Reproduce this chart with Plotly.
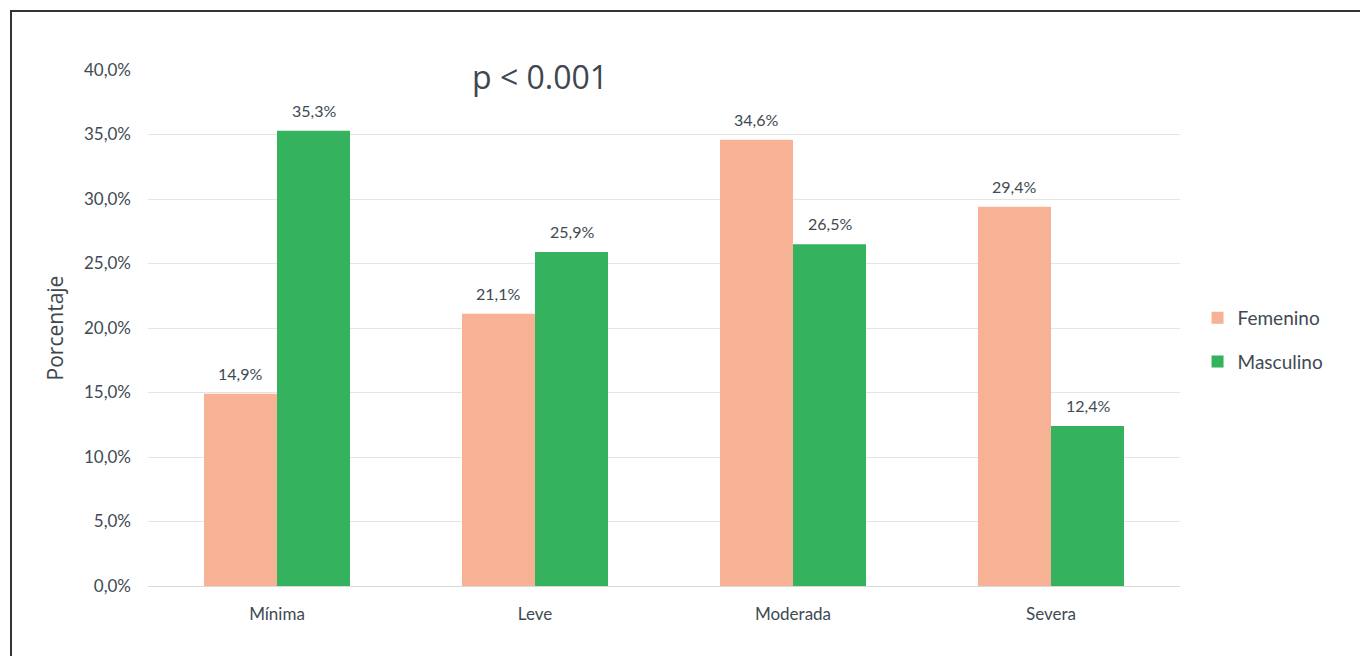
import plotly.graph_objects as go

categories = ["Mínima", "Leve", "Moderada", "Severa"]
femenino = [14.9, 21.1, 34.6, 29.4]
masculino = [35.3, 25.9, 26.5, 12.4]
series_names = ["Femenino", "Masculino"]
y_ticks = [0, 5, 10, 15, 20, 25, 30, 35, 40]
y_tick_text = [f"{v:.1f}".replace(".", ",") + "%" for v in y_ticks]

col_f = "#F7B195"
col_m = "#35B25E"
txt = "#404A52"
FONT = "Lato, Open Sans, sans-serif"

fig = go.Figure()
fig.add_trace(go.Bar(x=categories, y=femenino, name=series_names[0], legendgroup="f",
                     marker=dict(color=col_f, line=dict(width=0))))
fig.add_trace(go.Bar(x=categories, y=masculino, name=series_names[1], legendgroup="m",
                     marker=dict(color=col_m, line=dict(width=0))))

annotations = []
for i, c in enumerate(categories):
    for vals, off in ((femenino, -0.5), (masculino, 0.5)):
        v = vals[i]
        annotations.append(dict(
            x=i + off * 0.283, y=v, xref="x", yref="y",
            text=f"{v:.1f}".replace(".", ",") + "%",
            showarrow=False, yanchor="bottom", yshift=9,
            font=dict(family=FONT, size=16, color=txt),
        ))
annotations.append(dict(
    x=(540 - 148) / 1032, y=1.0 - (76 - 70) / 516, xref="paper", yref="paper",
    text="p < 0.001", showarrow=False, xanchor="center", yanchor="middle",
    font=dict(family="Open Sans, sans-serif", size=32, color="#3E474F"),
))

fig.update_layout(
    width=1360, height=656,
    margin=dict(l=148, r=180, t=70, b=70),
    paper_bgcolor="white", plot_bgcolor="white",
    separators=",.",
    barmode="group", bargap=0.434, bargroupgap=0,
    annotations=annotations,
    showlegend=True,
    legend=dict(x=1.017, y=0.477, xanchor="left", yanchor="middle",
                font=dict(family=FONT, size=19, color=txt),
                traceorder="grouped", tracegroupgap=16, itemwidth=30),
    font=dict(family=FONT, color=txt),
    shapes=[dict(type="rect", xref="paper", yref="paper",
                 x0=(11 - 148) / 1032, x1=(1370 - 148) / 1032,
                 y0=(586 - 670) / 516, y1=1 + (70 - 11) / 516,
                 line=dict(color="#333333", width=2), layer="below")],
)
fig.update_yaxes(
    range=[0, 40], tickvals=y_ticks, ticktext=y_tick_text,
    showgrid=True, gridcolor="#E4E4E4", gridwidth=1,
    zeroline=True, zerolinecolor="#D9D9D9", zerolinewidth=1,
    tickfont=dict(family=FONT, size=17, color=txt),
    ticklabelstandoff=16,
    title=dict(text="Porcentaje", font=dict(family="Open Sans, sans-serif", size=21, color="#3E474F"), standoff=14),
)
fig.update_xaxes(
    tickfont=dict(family=FONT, size=17, color=txt),
    showline=False, ticks="", ticklabelstandoff=16,
)

fig.write_html("out.html")
